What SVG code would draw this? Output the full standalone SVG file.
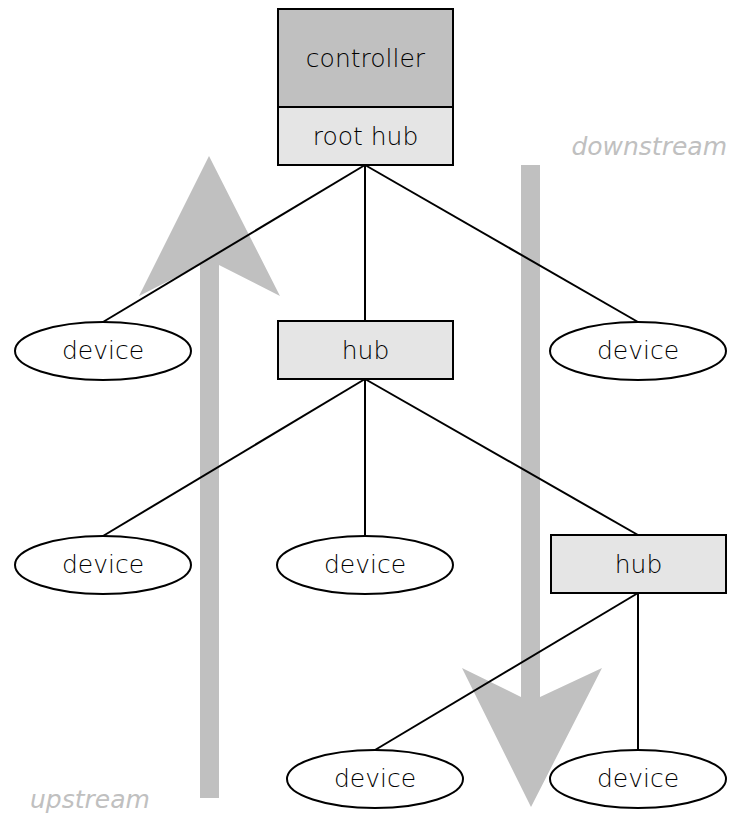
<svg xmlns="http://www.w3.org/2000/svg" width="729" height="813" viewBox="0 0 729 813">
<style>
text{font-family:"DejaVu Sans",Verdana,sans-serif;font-size:25px;font-weight:200;text-anchor:middle;fill:#000}
.box{stroke:#000;stroke-width:2}
.dev{fill:#fff;stroke:#000;stroke-width:2}
.hub{fill:#e5e5e5}
.edge{stroke:#000;stroke-width:2;fill:none}
.flow{fill:#c0c0c0;stroke:none}
.lbl{fill:#c0c0c0;font-style:italic}
</style>
<rect width="729" height="813" fill="#fff"/>
<g id="flows">
<polygon class="flow" points="209,156 280,296 219,265 219,798 200,798 200,265 139,296"/>
<polygon class="flow" points="531,807 602,668 540,697 540,165 521,165 521,697 462,668"/>
</g>
<g id="connectors">
<line class="edge" x1="365" y1="165" x2="103" y2="322"/>
<line class="edge" x1="365" y1="165" x2="365" y2="321"/>
<line class="edge" x1="365" y1="165" x2="638" y2="322"/>
<line class="edge" x1="365" y1="379" x2="103" y2="536"/>
<line class="edge" x1="365" y1="379" x2="365" y2="536"/>
<line class="edge" x1="365" y1="379" x2="638" y2="535"/>
<line class="edge" x1="638" y1="593" x2="375" y2="750"/>
<line class="edge" x1="638" y1="593" x2="638" y2="750"/>
</g>
<g id="controller">
<rect class="box" x="278" y="9" width="175" height="98" fill="#c0c0c0"/>
<text x="365.5" y="67">controller</text>
</g>
<g id="roothub">
<rect class="box hub" x="278" y="107" width="175" height="58"/>
<text x="365.5" y="145">root hub</text>
</g>
<g id="device1"><ellipse class="dev" cx="103" cy="351" rx="88" ry="29"/><text x="103" y="359">device</text></g>
<g id="hub1"><rect class="box hub" x="278" y="321" width="175" height="58"/><text x="365.5" y="359">hub</text></g>
<g id="device2"><ellipse class="dev" cx="638" cy="351" rx="88" ry="29"/><text x="638" y="359">device</text></g>
<g id="device3"><ellipse class="dev" cx="103" cy="565" rx="88" ry="29"/><text x="103" y="573">device</text></g>
<g id="device4"><ellipse class="dev" cx="365" cy="565" rx="88" ry="29"/><text x="365" y="573">device</text></g>
<g id="hub2"><rect class="box hub" x="551" y="535" width="175" height="58"/><text x="638.5" y="573">hub</text></g>
<g id="device5"><ellipse class="dev" cx="375" cy="779" rx="88" ry="29"/><text x="375" y="787">device</text></g>
<g id="device6"><ellipse class="dev" cx="638" cy="779" rx="88" ry="29"/><text x="638" y="787">device</text></g>
<g id="labels">
<text class="lbl" x="727" y="155" style="text-anchor:end">downstream</text>
<text class="lbl" x="30" y="808" style="text-anchor:start">upstream</text>
</g>
</svg>
